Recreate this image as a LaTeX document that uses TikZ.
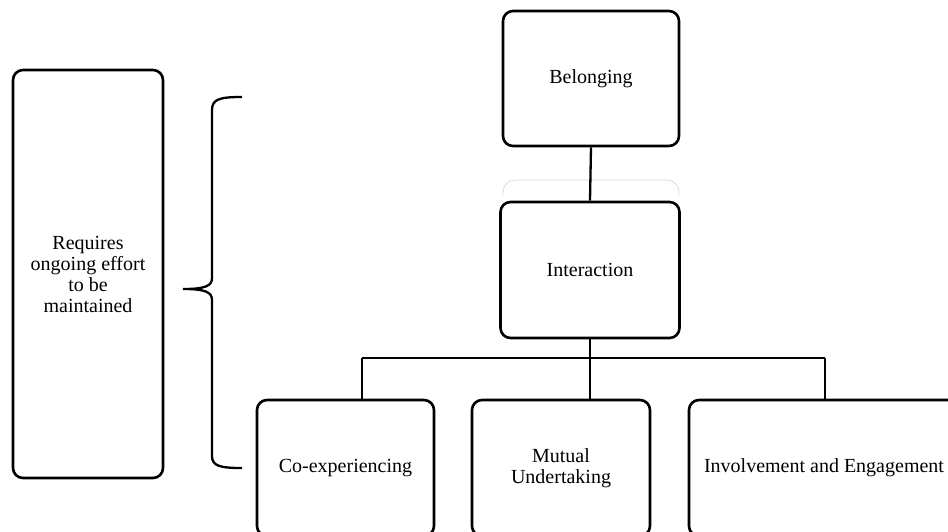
\documentclass[tikz,border=0pt]{standalone}
\usepackage{fontspec}
\setmainfont{Liberation Serif}
\begin{document}
\begin{tikzpicture}[x=1pt,y=-1pt,
  box/.style={draw, line width=2.6pt, rounded corners=10pt, align=center, inner sep=0pt,
    font=\fontsize{20}{21}\selectfont},
  conn/.style={line width=2.3pt}]
\useasboundingbox (0,0) rectangle (948,531);
\clip (0,0) rectangle (948,531);
\node[box, minimum width=150pt, minimum height=408pt] (req) at (88,274) {Requires\\ongoing effort\\to be\\maintained};
\node[box, minimum width=176pt, minimum height=135pt] (bel) at (591,78.5) {Belonging};
\draw[black!15, line width=0.8pt, rounded corners=12pt] (503,196) -- (503,180) -- (679,180) -- (679,196);
\node[box, minimum width=179pt, minimum height=136pt] (inter) at (590,270) {Interaction};
\node[box, minimum width=177pt, minimum height=136pt] (coexp) at (345.5,468) {Co-experiencing};
\node[box, minimum width=178pt, minimum height=136pt] (mutual) at (561,468) {Mutual\\Undertaking};
\node[box, minimum width=270pt, minimum height=136pt] (inv) at (824,468) {Involvement and Engagement};
\coordinate (b1) at (362,358);
\coordinate (b2) at (825,358);
\draw[conn] (bel.south) -- (inter.north);
\draw[conn] (inter.south) -- (mutual.north -| inter.south);
\draw[conn] (b1) -- (b2);
\draw[conn] (b1) -- (coexp.north -| b1);
\draw[conn] (b2) -- (inv.north -| b2);
\draw[line width=2.3pt] (242,97) .. controls (220,97) and (212,99) .. (212,110) -- (212,278)
  .. controls (212,286) and (205,289) .. (183,289)
  .. controls (205,289) and (212,292) .. (212,300) -- (212,456)
  .. controls (212,466) and (220,468) .. (242,468);
\end{tikzpicture}
\end{document}
